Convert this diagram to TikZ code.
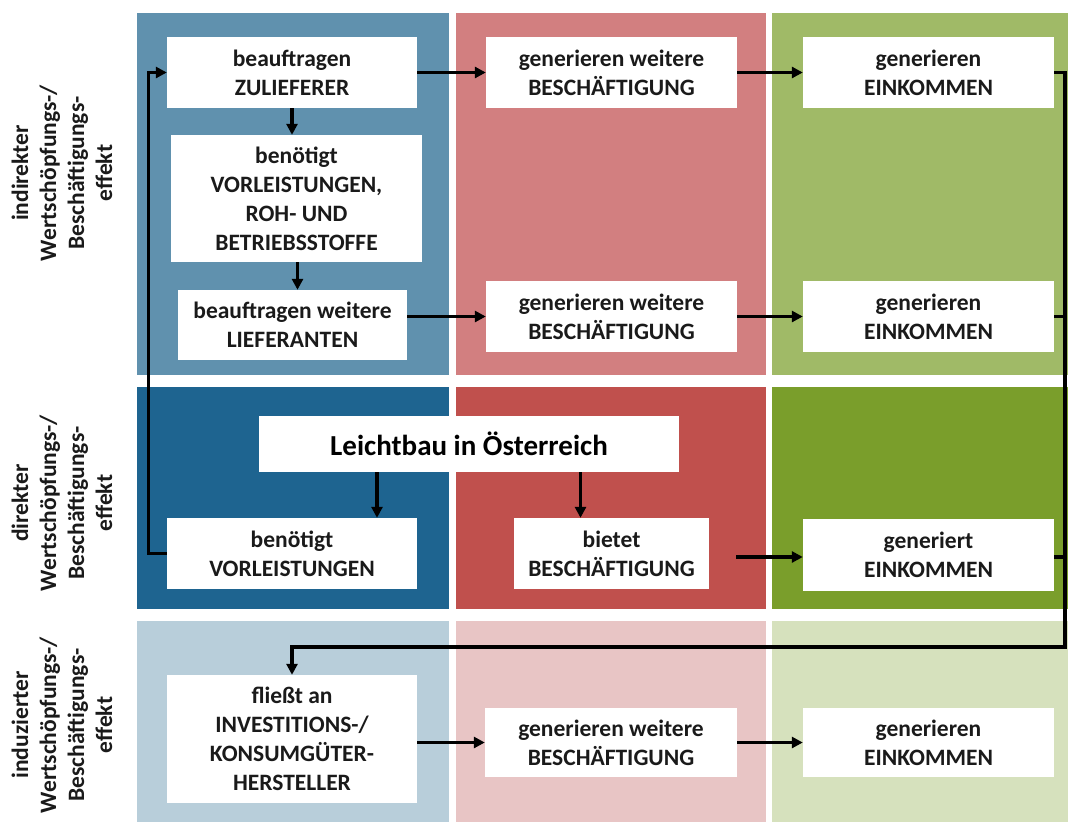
\documentclass[tikz,border=0pt]{standalone}
\usepackage{fontspec}
\setmainfont{Carlito}
\usepackage{xcolor}
\usetikzlibrary{positioning,arrows.meta,calc}

\definecolor{blueA}{HTML}{6091AE}
\definecolor{blueB}{HTML}{1E6490}
\definecolor{blueC}{HTML}{B8CEDA}
\definecolor{redA}{HTML}{D27F80}
\definecolor{redB}{HTML}{C0504D}
\definecolor{redC}{HTML}{E8C5C5}
\definecolor{greenA}{HTML}{A0BA67}
\definecolor{greenB}{HTML}{7A9E2B}
\definecolor{greenC}{HTML}{D6E1BD}
\definecolor{ink}{HTML}{1A1A1A}

\begin{document}
\begin{tikzpicture}[
  x=1pt, y=-1pt,
  box/.style   ={fill=white, align=center, inner sep=0pt, text=ink,
                 font=\fontsize{23.5}{29}\selectfont\bfseries,
                 minimum width=251pt, minimum height=71pt},
  title/.style ={box, font=\fontsize{29}{34}\selectfont\bfseries, text=black},
  side/.style  ={rotate=90, align=center, text=ink,
                 font=\fontsize{23.5}{28}\selectfont\bfseries},
  arr/.style   ={-{Triangle[length=11pt,width=11pt]}, line width=3.3pt, draw=black},
  link/.style  ={line width=3.3pt, draw=black},
]
\useasboundingbox (0,0) rectangle (1070,822);
% ---------------- panels (3 columns x 3 rows) ----------------
\fill[blueA]  (137,13)  rectangle (449,375);
\fill[redA]   (456,13)  rectangle (766,375);
\fill[greenA] (772,13)  rectangle (1068,375);
\fill[blueB]  (137,387) rectangle (449,609);
\fill[redB]   (456,387) rectangle (766,609);
\fill[greenB] (772,387) rectangle (1068,609);
\fill[blueC]  (137,621) rectangle (449,822);
\fill[redC]   (456,621) rectangle (766,822);
\fill[greenC] (772,621) rectangle (1068,822);
% ---------------- row labels ----------------
\node[side] (lind) at (62,173) {indirekter\\Wertschöpfungs-/\\Beschäftigungs-\\effekt};
\node[side] (ldir) at (62,503) {direkter\\Wertschöpfungs-/\\Beschäftigungs-\\effekt};
\node[side] (lins) at (62,725) {induzierter\\Wertschöpfungs-/\\Beschäftigungs-\\effekt};
% ---------------- indirect row ----------------
\node[box, minimum width=250pt] (zul)    at (292,72.5)  {beauftragen\\ZULIEFERER};
\node[box, minimum height=127pt] (vorroh) at (296.5,198.5) {benötigt\\VORLEISTUNGEN,\\ROH- UND\\BETRIEBSSTOFFE};
\node[box, minimum width=229pt, minimum height=70pt] (lief) at (292.5,325) {beauftragen weitere\\LIEFERANTEN};
\node[box] (besch1) at (611.5,72.5)  {generieren weitere\\BESCHÄFTIGUNG};
\node[box] (eink1)  at (928.5,72.5)  {generieren\\EINKOMMEN};
\node[box] (besch2) at (611.5,316.5) {generieren weitere\\BESCHÄFTIGUNG};
\node[box] (eink2)  at (928.5,316.5) {generieren\\EINKOMMEN};
% ---------------- direct row ----------------
\node[title, minimum width=420pt, minimum height=56pt] (leicht) at (469,444) {Leichtbau in Österreich};
\node[box, minimum width=250pt] (vorl)   at (292,553.5) {benötigt\\VORLEISTUNGEN};
\node[box, minimum width=195pt] (bietet) at (611.5,553.5) {bietet\\BESCHÄFTIGUNG};
\node[box, minimum height=72pt] (eink3)  at (928.5,555) {generiert\\EINKOMMEN};
% ---------------- induced row ----------------
\node[box, minimum width=250pt, minimum height=128pt] (fliesst) at (292,739) {fließt an\\INVESTITIONS-/\\KONSUMGÜTER-\\HERSTELLER};
\node[box, minimum width=252pt, minimum height=69pt] (besch4) at (611,742.5) {generieren weitere\\BESCHÄFTIGUNG};
\node[box, minimum height=69pt] (eink4) at (928.5,742.5) {generieren\\EINKOMMEN};
\coordinate (turn) at (1065,647);

% ---------------- indirect chain ----------------
\draw[arr] (zul.east) -- (besch1.west);
\draw[arr] (besch1.east) -- (eink1.west);
\draw[arr] (zul.south) -- (zul.south |- vorroh.north);
\draw[arr] ([xshift=1pt]vorroh.south) -- ([xshift=1pt]vorroh.south |- lief.north);
\draw[arr] (lief.east |- besch2.west) -- (besch2.west);
\draw[arr] (besch2.east) -- (eink2.west);
% ---------------- direct chain ----------------
\draw[arr] ([xshift=85pt]vorl.north |- leicht.south) -- ([xshift=85pt]vorl.north);
\draw[arr] ([xshift=-31pt]bietet.north |- leicht.south) -- ([xshift=-31pt]bietet.north);
\draw[arr] ([xshift=27pt]bietet.east |- 0,557) -- (eink3.west |- 0,557);
\draw[arr] (vorl.west) -- ++(-18,0) |- (zul.west);
% ---------------- income feeds back (induced) ----------------
\draw[arr] (eink1.east) -| (turn) -| (fliesst.north);
\draw[link] (eink2.east) -- (eink2.east -| turn);
\draw[link] (eink3.east |- 0,557) -- (turn |- 0,557);
\draw[arr] (fliesst.east |- besch4.west) -- (besch4.west);
\draw[arr] (besch4.east) -- (eink4.west);
\end{tikzpicture}
\end{document}
